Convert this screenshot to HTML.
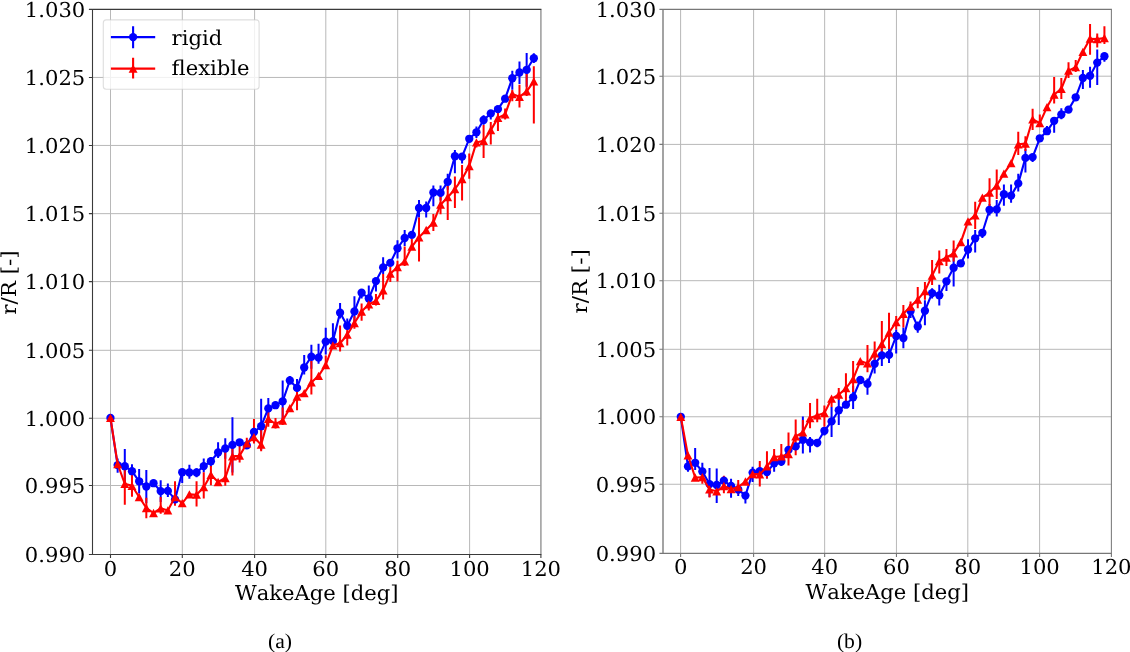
<!DOCTYPE html>
<html lang="en"><head><meta charset="utf-8"><title>r/R vs WakeAge: rigid and flexible</title>
<style>
html,body{margin:0;padding:0;background:#fff;}
body{width:1130px;height:652px;overflow:hidden;}
svg{display:block;will-change:transform;font-family:"DejaVu Serif","Liberation Serif",serif;font-kerning:none;text-rendering:geometricPrecision;}
</style></head><body>
<svg width="1130" height="652" viewBox="0 0 1130 652">
<rect width="1130" height="652" fill="#fff"/>
<g>
<path d="M110.5 9.4V554.5M182.3 9.4V554.5M254.6 9.4V554.5M325.8 9.4V554.5M397.7 9.4V554.5M469.6 9.4V554.5M92.5 77.45H540.9M92.5 145.45H540.9M92.5 213.65H540.9M92.5 281.6H540.9M92.5 350.3H540.9M92.5 418.25H540.9M92.5 485.5H540.9" stroke="#b8b8b8" stroke-width="1" fill="none"/>
<path d="M117.63 458.5V472.7M124.8 449.1V483.3M131.98 464.2V478.2M139.15 469.1V493.5M146.33 470V503M160.68 480.2V502M167.86 483.4V497.1M182.21 472.2V482.9M189.39 464.8V478.8M196.56 468.3V477.2M203.74 458.6V472.3M210.91 457V467M218.09 442.3V458.1M225.27 438.3V458.7M232.44 417.3V472.5M261.15 398.7V450M268.32 398.1V418.7M282.67 380.4V422M289.85 376V380.5M297.03 379V392.5M304.2 354.9V374.6M311.38 344.7V368.7M318.55 343.8V363.8M325.73 327.8V354.5M332.91 323.3V341.1M340.08 302.9V318.5M347.26 318.5V325.8M354.43 296.2V326.6M361.61 292.7V298.5M368.79 285.6V305M375.96 281.1V291.4M383.14 257.2V274M397.49 240.2V258.5M404.67 230V246M419.02 200V217.6M426.19 201.4V217.6M433.37 185.4V206.3M440.55 185.4V200.4M447.72 173.8V189.8M454.9 149.9V173.3M462.07 156.6V163.6M476.43 126.4V138M483.6 115.2V124.8M490.78 113.4V119.6M512.31 70.7V89.8M519.48 61.4V84M526.66 52.9V86.7M533.83 53.3V63.1" stroke="#0000ff" stroke-width="2.0" fill="none"/>
<path d="M124.8 462.9V504.7M131.98 474.8V496.7M146.33 497.7V518.3M160.68 496.9V513.8M175.03 481.3V505.8M196.56 481.2V506.6M203.74 472.3V498.6M210.91 466V485.2M225.27 448.5V485.7M232.44 445V475.5M239.62 446V462.6M246.79 437.8V449M253.97 419.1V443.6M261.15 426V451.2M268.32 411V426.7M275.5 418.1V428.5M282.67 407.5V425M297.03 388V410.2M311.38 361V394.6M325.73 355.4V365M340.08 325.6V351.4M347.26 326V345.6M354.43 316.3V328.7M361.61 303.4V320.7M368.79 298V310.5M375.96 294V305.5M383.14 274V299.4M390.31 266.9V282M397.49 260.7V281.6M404.67 246.5V266M411.84 239V246.6M419.02 217.6V261.6M433.37 214V230.9M440.55 196V214.3M447.72 186V220M454.9 176.5V208M462.07 164.9V200.5M469.25 153.5V178.7M476.43 142.4V147.5M483.6 125V157.9M490.78 121.9V144.6M497.95 110V131.1M505.13 108.5V119.5M512.31 90V101.2M519.48 84.8V107.5M526.66 73.8V95.9M533.83 66.2V123.5" stroke="#ff0000" stroke-width="2.0" fill="none"/>
<polyline points="110.45,418 117.63,465.1 124.8,466.2 131.98,471.2 139.15,481.3 146.33,486.5 153.51,483.2 160.68,491.1 167.86,490.9 175.03,499.4 182.21,472.2 189.39,472.5 196.56,472.5 203.74,466.1 210.91,461.2 218.09,452.5 225.27,448.5 232.44,444.9 239.62,442.3 246.79,445.4 253.97,432 261.15,426.2 268.32,408.4 275.5,405.2 282.67,401.3 289.85,380.5 297.03,387.9 304.2,367.5 311.38,356.7 318.55,357.6 325.73,341.6 332.91,341.1 340.08,312.7 347.26,325.8 354.43,311.4 361.61,292.7 368.79,298.5 375.96,281.1 383.14,267.4 390.31,262.9 397.49,248.3 404.67,238 411.84,234.9 419.02,208 426.19,208 433.37,192.5 440.55,192.9 447.72,181.8 454.9,156.2 462.07,156.6 469.25,138.8 476.43,132.3 483.6,120 490.78,113.4 497.95,109.1 505.13,98.7 512.31,78.2 519.48,72.5 526.66,69.8 533.83,58.2" stroke="#0000ff" stroke-width="2.1" fill="none" stroke-linejoin="round"/>
<g fill="#0000ff"><circle cx="110.45" cy="418" r="4.15"/><circle cx="117.63" cy="465.1" r="4.15"/><circle cx="124.8" cy="466.2" r="4.15"/><circle cx="131.98" cy="471.2" r="4.15"/><circle cx="139.15" cy="481.3" r="4.15"/><circle cx="146.33" cy="486.5" r="4.15"/><circle cx="153.51" cy="483.2" r="4.15"/><circle cx="160.68" cy="491.1" r="4.15"/><circle cx="167.86" cy="490.9" r="4.15"/><circle cx="175.03" cy="499.4" r="4.15"/><circle cx="182.21" cy="472.2" r="4.15"/><circle cx="189.39" cy="472.5" r="4.15"/><circle cx="196.56" cy="472.5" r="4.15"/><circle cx="203.74" cy="466.1" r="4.15"/><circle cx="210.91" cy="461.2" r="4.15"/><circle cx="218.09" cy="452.5" r="4.15"/><circle cx="225.27" cy="448.5" r="4.15"/><circle cx="232.44" cy="444.9" r="4.15"/><circle cx="239.62" cy="442.3" r="4.15"/><circle cx="246.79" cy="445.4" r="4.15"/><circle cx="253.97" cy="432" r="4.15"/><circle cx="261.15" cy="426.2" r="4.15"/><circle cx="268.32" cy="408.4" r="4.15"/><circle cx="275.5" cy="405.2" r="4.15"/><circle cx="282.67" cy="401.3" r="4.15"/><circle cx="289.85" cy="380.5" r="4.15"/><circle cx="297.03" cy="387.9" r="4.15"/><circle cx="304.2" cy="367.5" r="4.15"/><circle cx="311.38" cy="356.7" r="4.15"/><circle cx="318.55" cy="357.6" r="4.15"/><circle cx="325.73" cy="341.6" r="4.15"/><circle cx="332.91" cy="341.1" r="4.15"/><circle cx="340.08" cy="312.7" r="4.15"/><circle cx="347.26" cy="325.8" r="4.15"/><circle cx="354.43" cy="311.4" r="4.15"/><circle cx="361.61" cy="292.7" r="4.15"/><circle cx="368.79" cy="298.5" r="4.15"/><circle cx="375.96" cy="281.1" r="4.15"/><circle cx="383.14" cy="267.4" r="4.15"/><circle cx="390.31" cy="262.9" r="4.15"/><circle cx="397.49" cy="248.3" r="4.15"/><circle cx="404.67" cy="238" r="4.15"/><circle cx="411.84" cy="234.9" r="4.15"/><circle cx="419.02" cy="208" r="4.15"/><circle cx="426.19" cy="208" r="4.15"/><circle cx="433.37" cy="192.5" r="4.15"/><circle cx="440.55" cy="192.9" r="4.15"/><circle cx="447.72" cy="181.8" r="4.15"/><circle cx="454.9" cy="156.2" r="4.15"/><circle cx="462.07" cy="156.6" r="4.15"/><circle cx="469.25" cy="138.8" r="4.15"/><circle cx="476.43" cy="132.3" r="4.15"/><circle cx="483.6" cy="120" r="4.15"/><circle cx="490.78" cy="113.4" r="4.15"/><circle cx="497.95" cy="109.1" r="4.15"/><circle cx="505.13" cy="98.7" r="4.15"/><circle cx="512.31" cy="78.2" r="4.15"/><circle cx="519.48" cy="72.5" r="4.15"/><circle cx="526.66" cy="69.8" r="4.15"/><circle cx="533.83" cy="58.2" r="4.15"/></g>
<polyline points="110.45,417.9 117.63,464 124.8,483.8 131.98,485.8 139.15,497 146.33,508 153.51,513 160.68,508.3 167.86,510.4 175.03,497.1 182.21,503.2 189.39,494.4 196.56,494.7 203.74,487.2 210.91,474.8 218.09,482 225.27,478 232.44,456.4 239.62,455.7 246.79,443.4 253.97,437.2 261.15,444.7 268.32,418.9 275.5,424 282.67,420.5 289.85,408.2 297.03,396.5 304.2,393.1 311.38,382.4 318.55,375.8 325.73,365 332.91,345.3 340.08,343.2 347.26,334.7 354.43,323 361.61,311.6 368.79,304.3 375.96,300.9 383.14,290.3 390.31,273.7 397.49,267 404.67,261.4 411.84,246.6 419.02,237.3 426.19,230 433.37,222.5 440.55,204.7 447.72,197.2 454.9,189.2 462.07,179 469.25,166 476.43,142.4 483.6,140.8 490.78,130.1 497.95,117.9 505.13,114.4 512.31,94 519.48,96.8 526.66,91.3 533.83,81.4" stroke="#ff0000" stroke-width="2.1" fill="none" stroke-linejoin="round"/>
<g fill="#ff0000"><path d="M110.45 413.75L114.9 422.05H106Z"/><path d="M117.63 459.85L122.08 468.15H113.18Z"/><path d="M124.8 479.65L129.25 487.95H120.35Z"/><path d="M131.98 481.65L136.43 489.95H127.53Z"/><path d="M139.15 492.85L143.6 501.15H134.7Z"/><path d="M146.33 503.85L150.78 512.15H141.88Z"/><path d="M153.51 508.85L157.96 517.15H149.06Z"/><path d="M160.68 504.15L165.13 512.45H156.23Z"/><path d="M167.86 506.25L172.31 514.55H163.41Z"/><path d="M175.03 492.95L179.48 501.25H170.58Z"/><path d="M182.21 499.05L186.66 507.35H177.76Z"/><path d="M189.39 490.25L193.84 498.55H184.94Z"/><path d="M196.56 490.55L201.01 498.85H192.11Z"/><path d="M203.74 483.05L208.19 491.35H199.29Z"/><path d="M210.91 470.65L215.36 478.95H206.46Z"/><path d="M218.09 477.85L222.54 486.15H213.64Z"/><path d="M225.27 473.85L229.72 482.15H220.82Z"/><path d="M232.44 452.25L236.89 460.55H227.99Z"/><path d="M239.62 451.55L244.07 459.85H235.17Z"/><path d="M246.79 439.25L251.24 447.55H242.34Z"/><path d="M253.97 433.05L258.42 441.35H249.52Z"/><path d="M261.15 440.55L265.6 448.85H256.7Z"/><path d="M268.32 414.75L272.77 423.05H263.87Z"/><path d="M275.5 419.85L279.95 428.15H271.05Z"/><path d="M282.67 416.35L287.12 424.65H278.22Z"/><path d="M289.85 404.05L294.3 412.35H285.4Z"/><path d="M297.03 392.35L301.48 400.65H292.58Z"/><path d="M304.2 388.95L308.65 397.25H299.75Z"/><path d="M311.38 378.25L315.83 386.55H306.93Z"/><path d="M318.55 371.65L323 379.95H314.1Z"/><path d="M325.73 360.85L330.18 369.15H321.28Z"/><path d="M332.91 341.15L337.36 349.45H328.46Z"/><path d="M340.08 339.05L344.53 347.35H335.63Z"/><path d="M347.26 330.55L351.71 338.85H342.81Z"/><path d="M354.43 318.85L358.88 327.15H349.98Z"/><path d="M361.61 307.45L366.06 315.75H357.16Z"/><path d="M368.79 300.15L373.24 308.45H364.34Z"/><path d="M375.96 296.75L380.41 305.05H371.51Z"/><path d="M383.14 286.15L387.59 294.45H378.69Z"/><path d="M390.31 269.55L394.76 277.85H385.86Z"/><path d="M397.49 262.85L401.94 271.15H393.04Z"/><path d="M404.67 257.25L409.12 265.55H400.22Z"/><path d="M411.84 242.45L416.29 250.75H407.39Z"/><path d="M419.02 233.15L423.47 241.45H414.57Z"/><path d="M426.19 225.85L430.64 234.15H421.74Z"/><path d="M433.37 218.35L437.82 226.65H428.92Z"/><path d="M440.55 200.55L445 208.85H436.1Z"/><path d="M447.72 193.05L452.17 201.35H443.27Z"/><path d="M454.9 185.05L459.35 193.35H450.45Z"/><path d="M462.07 174.85L466.52 183.15H457.62Z"/><path d="M469.25 161.85L473.7 170.15H464.8Z"/><path d="M476.43 138.25L480.88 146.55H471.98Z"/><path d="M483.6 136.65L488.05 144.95H479.15Z"/><path d="M490.78 125.95L495.23 134.25H486.33Z"/><path d="M497.95 113.75L502.4 122.05H493.5Z"/><path d="M505.13 110.25L509.58 118.55H500.68Z"/><path d="M512.31 89.85L516.76 98.15H507.86Z"/><path d="M519.48 92.65L523.93 100.95H515.03Z"/><path d="M526.66 87.15L531.11 95.45H522.21Z"/><path d="M533.83 77.25L538.28 85.55H529.38Z"/></g>
<path d="M540.9 9.4V554.5" stroke="#9a9a9a" stroke-width="1.5"/>
<path d="M92.5 8.9V555" stroke="#3a3a3a" stroke-width="1.1"/>
<path d="M92.5 9.4H541.4" stroke="#3a3a3a" stroke-width="1.1"/>
<path d="M92.5 554.5H541.4" stroke="#3a3a3a" stroke-width="1.1"/>
<path d="M110.5 554.5v3.6M182.3 554.5v3.6M254.6 554.5v3.6M325.8 554.5v3.6M397.7 554.5v3.6M469.6 554.5v3.6M540.9 554.5v3.6M92.5 9.4h-3.6M92.5 77.45h-3.6M92.5 145.45h-3.6M92.5 213.65h-3.6M92.5 281.6h-3.6M92.5 350.3h-3.6M92.5 418.25h-3.6M92.5 485.5h-3.6M92.5 554.5h-3.6" stroke="#3a3a3a" stroke-width="1.1" fill="none"/>
<g font-size="20.5" fill="#000">
<text transform="translate(85.3 16.85) scale(1.03 1)" text-anchor="end">1.030</text>
<text transform="translate(85.3 84.9) scale(1.03 1)" text-anchor="end">1.025</text>
<text transform="translate(85.3 152.9) scale(1.03 1)" text-anchor="end">1.020</text>
<text transform="translate(85.3 221.1) scale(1.03 1)" text-anchor="end">1.015</text>
<text transform="translate(85.3 289.05) scale(1.03 1)" text-anchor="end">1.010</text>
<text transform="translate(85.3 357.75) scale(1.03 1)" text-anchor="end">1.005</text>
<text transform="translate(85.3 425.7) scale(1.03 1)" text-anchor="end">1.000</text>
<text transform="translate(85.3 492.95) scale(1.03 1)" text-anchor="end">0.995</text>
<text transform="translate(85.3 561.95) scale(1.03 1)" text-anchor="end">0.990</text>
<text transform="translate(110.5 575.7) scale(1.03 1)" text-anchor="middle">0</text>
<text transform="translate(182.3 575.7) scale(1.03 1)" text-anchor="middle">20</text>
<text transform="translate(254.6 575.7) scale(1.03 1)" text-anchor="middle">40</text>
<text transform="translate(325.8 575.7) scale(1.03 1)" text-anchor="middle">60</text>
<text transform="translate(397.7 575.7) scale(1.03 1)" text-anchor="middle">80</text>
<text transform="translate(469.6 575.7) scale(1.03 1)" text-anchor="middle">100</text>
<text transform="translate(540.9 575.7) scale(1.03 1)" text-anchor="middle">120</text>
<text transform="translate(316.7 599.9) scale(1.03 1)" text-anchor="middle">WakeAge [deg]</text>
<text transform="translate(16.3 282.55) rotate(-90) scale(1.045 1)" text-anchor="middle">r/R [-]</text>
</g>
<rect x="103.3" y="19.9" width="155.8" height="69.3" rx="3" ry="3" fill="#fff" fill-opacity="0.8" stroke="#ccc" stroke-opacity="0.65" stroke-width="1.1"/>
<path d="M133.1 26.2V48.2M110.9 37.1H155.2" stroke="#0000ff" stroke-width="2.1"/><g fill="#0000ff"><circle cx="133.1" cy="37.1" r="4.15"/></g>
<path d="M133.1 57.8V78.5M110.9 68.6H155.2" stroke="#ff0000" stroke-width="2.1"/><g fill="#ff0000"><path d="M133.1 64.45L137.55 72.75H128.65Z"/></g>
<g font-size="20.5" fill="#000"><text transform="translate(171.6 44.6) scale(1.03 1)" text-anchor="start">rigid</text><text transform="translate(171.6 75.4) scale(1.03 1)" text-anchor="start">flexible</text></g>
<text transform="translate(280 648) scale(1.03 1)" text-anchor="middle" font-family="'Liberation Serif', 'DejaVu Serif', serif" font-size="21" fill="#000">(a)</text>
</g>
<g>
<path d="M680.6 9.4V553.4M753.6 9.4V553.4M824.65 9.4V553.4M896.45 9.4V553.4M967.8 9.4V553.4M1039.6 9.4V553.4M663 76.2H1111.4M663 144.4H1111.4M663 213.2H1111.4M663 280.7H1111.4M663 349.3H1111.4M663 416.75H1111.4M663 484.25H1111.4" stroke="#b8b8b8" stroke-width="1" fill="none"/>
<path d="M687.98 461V471.7M695.16 448.1V469.9M702.34 462.8V480M709.52 468.1V497M716.7 468.6V502.9M731.06 478.8V497.7M738.24 489.5V496M745.42 495.6V503.4M752.6 466.8V481.9M766.96 472.1V478.4M774.14 455V471.7M781.32 461.5V466M802.86 416.5V453.5M810.04 437V452.6M817.22 442.8V447.3M824.4 430.8V435.5M831.58 407.1V437M838.76 399V424.9M853.12 386V408.9M867.48 378.5V394.7M874.66 354V373.6M881.84 345V366M889.02 349V362.9M896.2 329.6V353.6M903.38 327.4V348.2M910.56 304V318M917.74 321.6V332.7M924.92 300.2V325.2M932.1 288.2V298.4M939.28 284.7V305.6M946.46 281.3V290.9M953.64 249V286.5M968 239.2V258.4M975.18 229.9V252.6M982.36 232.8V237.9M989.54 204V215.6M996.72 200V216.5M1003.9 184.5V205.8M1011.08 184.5V202.7M1018.26 173.8V191.6M1025.44 149.1V172.6M1032.62 157.1V162M1046.98 126V131.2M1054.16 120.8V132.7M1061.34 108.3V119.3M1082.88 70V89.1M1090.06 66.8V87.8M1097.24 49.4V85.1M1104.42 56.2V61.8" stroke="#0000ff" stroke-width="2.0" fill="none"/>
<path d="M702.34 471V483.7M709.52 481V497.5M723.88 475.8V493.3M738.24 480.1V494M759.78 461V486.5M766.96 451.2V478.4M774.14 449V465M781.32 444.1V462M788.5 432.6V465.5M795.68 419.6V455.2M802.86 420V440M810.04 403.1V428.3M817.22 398.7V422.3M824.4 405.4V426.7M831.58 398.7V407.1M838.76 388V400M845.94 373.2V400.9M853.12 361.1V392M867.48 345.1V372.3M874.66 341.6V360M881.84 321.1V352M889.02 312.7V349.1M896.2 316V329.6M903.38 305.1V327.4M910.56 301.6V311M917.74 286.9V308.2M924.92 282V299.8M932.1 260.1V285.1M939.28 250.4V273.5M946.46 249V265.9M953.64 240.6V261.5M975.18 201.8V228.9M989.54 178.2V206M996.72 169.6V199.1M1018.26 131.8V154.9M1025.44 136.2V151M1032.62 108.7V130M1039.8 114.5V123.1M1054.16 77.1V103.4M1061.34 78V98.9M1068.52 62.3V78M1075.7 60V72M1090.06 24V54.7M1097.24 33.4V47.6M1104.42 26.2V44" stroke="#ff0000" stroke-width="2.0" fill="none"/>
<polyline points="680.8,416.8 687.98,466.4 695.16,462.8 702.34,471.5 709.52,484.1 716.7,485 723.88,480.6 731.06,486 738.24,489.5 745.42,495.6 752.6,472.6 759.78,471.2 766.96,472.1 774.14,463.3 781.32,461.5 788.5,449.9 795.68,446.4 802.86,439.7 810.04,442.3 817.22,442.8 824.4,430.8 831.58,421.4 838.76,410.2 845.94,404.7 853.12,397.3 860.3,380 867.48,383.9 874.66,363.8 881.84,355.4 889.02,354.9 896.2,336 903.38,338 910.56,311 917.74,326.5 924.92,310.7 932.1,293.1 939.28,295.3 946.46,281.3 953.64,267.7 960.82,263.3 968,249.5 975.18,238.3 982.36,232.8 989.54,209.8 996.72,209.4 1003.9,194.2 1011.08,195.6 1018.26,183.4 1025.44,157.9 1032.62,157.1 1039.8,138.3 1046.98,131.2 1054.16,120.8 1061.34,114.5 1068.52,109.6 1075.7,97.3 1082.88,78 1090.06,75.8 1097.24,62.6 1104.42,56.2" stroke="#0000ff" stroke-width="2.1" fill="none" stroke-linejoin="round"/>
<g fill="#0000ff"><circle cx="680.8" cy="416.8" r="4.15"/><circle cx="687.98" cy="466.4" r="4.15"/><circle cx="695.16" cy="462.8" r="4.15"/><circle cx="702.34" cy="471.5" r="4.15"/><circle cx="709.52" cy="484.1" r="4.15"/><circle cx="716.7" cy="485" r="4.15"/><circle cx="723.88" cy="480.6" r="4.15"/><circle cx="731.06" cy="486" r="4.15"/><circle cx="738.24" cy="489.5" r="4.15"/><circle cx="745.42" cy="495.6" r="4.15"/><circle cx="752.6" cy="472.6" r="4.15"/><circle cx="759.78" cy="471.2" r="4.15"/><circle cx="766.96" cy="472.1" r="4.15"/><circle cx="774.14" cy="463.3" r="4.15"/><circle cx="781.32" cy="461.5" r="4.15"/><circle cx="788.5" cy="449.9" r="4.15"/><circle cx="795.68" cy="446.4" r="4.15"/><circle cx="802.86" cy="439.7" r="4.15"/><circle cx="810.04" cy="442.3" r="4.15"/><circle cx="817.22" cy="442.8" r="4.15"/><circle cx="824.4" cy="430.8" r="4.15"/><circle cx="831.58" cy="421.4" r="4.15"/><circle cx="838.76" cy="410.2" r="4.15"/><circle cx="845.94" cy="404.7" r="4.15"/><circle cx="853.12" cy="397.3" r="4.15"/><circle cx="860.3" cy="380" r="4.15"/><circle cx="867.48" cy="383.9" r="4.15"/><circle cx="874.66" cy="363.8" r="4.15"/><circle cx="881.84" cy="355.4" r="4.15"/><circle cx="889.02" cy="354.9" r="4.15"/><circle cx="896.2" cy="336" r="4.15"/><circle cx="903.38" cy="338" r="4.15"/><circle cx="910.56" cy="311" r="4.15"/><circle cx="917.74" cy="326.5" r="4.15"/><circle cx="924.92" cy="310.7" r="4.15"/><circle cx="932.1" cy="293.1" r="4.15"/><circle cx="939.28" cy="295.3" r="4.15"/><circle cx="946.46" cy="281.3" r="4.15"/><circle cx="953.64" cy="267.7" r="4.15"/><circle cx="960.82" cy="263.3" r="4.15"/><circle cx="968" cy="249.5" r="4.15"/><circle cx="975.18" cy="238.3" r="4.15"/><circle cx="982.36" cy="232.8" r="4.15"/><circle cx="989.54" cy="209.8" r="4.15"/><circle cx="996.72" cy="209.4" r="4.15"/><circle cx="1003.9" cy="194.2" r="4.15"/><circle cx="1011.08" cy="195.6" r="4.15"/><circle cx="1018.26" cy="183.4" r="4.15"/><circle cx="1025.44" cy="157.9" r="4.15"/><circle cx="1032.62" cy="157.1" r="4.15"/><circle cx="1039.8" cy="138.3" r="4.15"/><circle cx="1046.98" cy="131.2" r="4.15"/><circle cx="1054.16" cy="120.8" r="4.15"/><circle cx="1061.34" cy="114.5" r="4.15"/><circle cx="1068.52" cy="109.6" r="4.15"/><circle cx="1075.7" cy="97.3" r="4.15"/><circle cx="1082.88" cy="78" r="4.15"/><circle cx="1090.06" cy="75.8" r="4.15"/><circle cx="1097.24" cy="62.6" r="4.15"/><circle cx="1104.42" cy="56.2" r="4.15"/></g>
<polyline points="680.8,416.9 687.98,455.4 695.16,477.5 702.34,477.2 709.52,489.4 716.7,491.3 723.88,486 731.06,489.2 738.24,487 745.42,481.5 752.6,474.1 759.78,474.4 766.96,466.4 774.14,457 781.32,456.3 788.5,454.2 795.68,436.4 802.86,432.3 810.04,418.1 817.22,415.4 824.4,413.1 831.58,398.7 838.76,394.7 845.94,388.2 853.12,379.1 860.3,361.1 867.48,363.4 874.66,353.3 881.84,344 889.02,332.5 896.2,322.2 903.38,313.8 910.56,306.6 917.74,299.6 924.92,291.1 932.1,275.6 939.28,261.2 946.46,257.5 953.64,253.3 960.82,242.1 968,221.3 975.18,215.3 982.36,197.6 989.54,192.7 996.72,185.5 1003.9,173.6 1011.08,163.1 1018.26,144.4 1025.44,143.5 1032.62,119.3 1039.8,123.1 1046.98,107.1 1054.16,94.5 1061.34,88.9 1068.52,70.6 1075.7,67.1 1082.88,51.8 1090.06,38.7 1097.24,39.1 1104.42,38" stroke="#ff0000" stroke-width="2.1" fill="none" stroke-linejoin="round"/>
<g fill="#ff0000"><path d="M680.8 412.75L685.25 421.05H676.35Z"/><path d="M687.98 451.25L692.43 459.55H683.53Z"/><path d="M695.16 473.35L699.61 481.65H690.71Z"/><path d="M702.34 473.05L706.79 481.35H697.89Z"/><path d="M709.52 485.25L713.97 493.55H705.07Z"/><path d="M716.7 487.15L721.15 495.45H712.25Z"/><path d="M723.88 481.85L728.33 490.15H719.43Z"/><path d="M731.06 485.05L735.51 493.35H726.61Z"/><path d="M738.24 482.85L742.69 491.15H733.79Z"/><path d="M745.42 477.35L749.87 485.65H740.97Z"/><path d="M752.6 469.95L757.05 478.25H748.15Z"/><path d="M759.78 470.25L764.23 478.55H755.33Z"/><path d="M766.96 462.25L771.41 470.55H762.51Z"/><path d="M774.14 452.85L778.59 461.15H769.69Z"/><path d="M781.32 452.15L785.77 460.45H776.87Z"/><path d="M788.5 450.05L792.95 458.35H784.05Z"/><path d="M795.68 432.25L800.13 440.55H791.23Z"/><path d="M802.86 428.15L807.31 436.45H798.41Z"/><path d="M810.04 413.95L814.49 422.25H805.59Z"/><path d="M817.22 411.25L821.67 419.55H812.77Z"/><path d="M824.4 408.95L828.85 417.25H819.95Z"/><path d="M831.58 394.55L836.03 402.85H827.13Z"/><path d="M838.76 390.55L843.21 398.85H834.31Z"/><path d="M845.94 384.05L850.39 392.35H841.49Z"/><path d="M853.12 374.95L857.57 383.25H848.67Z"/><path d="M860.3 356.95L864.75 365.25H855.85Z"/><path d="M867.48 359.25L871.93 367.55H863.03Z"/><path d="M874.66 349.15L879.11 357.45H870.21Z"/><path d="M881.84 339.85L886.29 348.15H877.39Z"/><path d="M889.02 328.35L893.47 336.65H884.57Z"/><path d="M896.2 318.05L900.65 326.35H891.75Z"/><path d="M903.38 309.65L907.83 317.95H898.93Z"/><path d="M910.56 302.45L915.01 310.75H906.11Z"/><path d="M917.74 295.45L922.19 303.75H913.29Z"/><path d="M924.92 286.95L929.37 295.25H920.47Z"/><path d="M932.1 271.45L936.55 279.75H927.65Z"/><path d="M939.28 257.05L943.73 265.35H934.83Z"/><path d="M946.46 253.35L950.91 261.65H942.01Z"/><path d="M953.64 249.15L958.09 257.45H949.19Z"/><path d="M960.82 237.95L965.27 246.25H956.37Z"/><path d="M968 217.15L972.45 225.45H963.55Z"/><path d="M975.18 211.15L979.63 219.45H970.73Z"/><path d="M982.36 193.45L986.81 201.75H977.91Z"/><path d="M989.54 188.55L993.99 196.85H985.09Z"/><path d="M996.72 181.35L1001.17 189.65H992.27Z"/><path d="M1003.9 169.45L1008.35 177.75H999.45Z"/><path d="M1011.08 158.95L1015.53 167.25H1006.63Z"/><path d="M1018.26 140.25L1022.71 148.55H1013.81Z"/><path d="M1025.44 139.35L1029.89 147.65H1020.99Z"/><path d="M1032.62 115.15L1037.07 123.45H1028.17Z"/><path d="M1039.8 118.95L1044.25 127.25H1035.35Z"/><path d="M1046.98 102.95L1051.43 111.25H1042.53Z"/><path d="M1054.16 90.35L1058.61 98.65H1049.71Z"/><path d="M1061.34 84.75L1065.79 93.05H1056.89Z"/><path d="M1068.52 66.45L1072.97 74.75H1064.07Z"/><path d="M1075.7 62.95L1080.15 71.25H1071.25Z"/><path d="M1082.88 47.65L1087.33 55.95H1078.43Z"/><path d="M1090.06 34.55L1094.51 42.85H1085.61Z"/><path d="M1097.24 34.95L1101.69 43.25H1092.79Z"/><path d="M1104.42 33.85L1108.87 42.15H1099.97Z"/></g>
<path d="M1111.4 9.4V553.4" stroke="#808080" stroke-width="1.1"/>
<path d="M663 8.9V553.9" stroke="#8c8c8c" stroke-width="1.6"/>
<path d="M663 9.4H1111.9" stroke="#777" stroke-width="1.1"/>
<path d="M663 553.4H1111.9" stroke="#777" stroke-width="1.1"/>
<path d="M680.6 553.4v3.6M753.6 553.4v3.6M824.65 553.4v3.6M896.45 553.4v3.6M967.8 553.4v3.6M1039.6 553.4v3.6M1111.4 553.4v3.6M663 9.4h-3.6M663 76.2h-3.6M663 144.4h-3.6M663 213.2h-3.6M663 280.7h-3.6M663 349.3h-3.6M663 416.75h-3.6M663 484.25h-3.6M663 553.4h-3.6" stroke="#777" stroke-width="1.1" fill="none"/>
<g font-size="20.5" fill="#000">
<text transform="translate(656.1 16.85) scale(1.03 1)" text-anchor="end">1.030</text>
<text transform="translate(656.1 83.65) scale(1.03 1)" text-anchor="end">1.025</text>
<text transform="translate(656.1 151.85) scale(1.03 1)" text-anchor="end">1.020</text>
<text transform="translate(656.1 220.65) scale(1.03 1)" text-anchor="end">1.015</text>
<text transform="translate(656.1 288.15) scale(1.03 1)" text-anchor="end">1.010</text>
<text transform="translate(656.1 356.75) scale(1.03 1)" text-anchor="end">1.005</text>
<text transform="translate(656.1 424.2) scale(1.03 1)" text-anchor="end">1.000</text>
<text transform="translate(656.1 491.7) scale(1.03 1)" text-anchor="end">0.995</text>
<text transform="translate(656.1 560.85) scale(1.03 1)" text-anchor="end">0.990</text>
<text transform="translate(680.6 574.3) scale(1.03 1)" text-anchor="middle">0</text>
<text transform="translate(753.6 574.3) scale(1.03 1)" text-anchor="middle">20</text>
<text transform="translate(824.65 574.3) scale(1.03 1)" text-anchor="middle">40</text>
<text transform="translate(896.45 574.3) scale(1.03 1)" text-anchor="middle">60</text>
<text transform="translate(967.8 574.3) scale(1.03 1)" text-anchor="middle">80</text>
<text transform="translate(1039.6 574.3) scale(1.03 1)" text-anchor="middle">100</text>
<text transform="translate(1111.4 574.3) scale(1.03 1)" text-anchor="middle">120</text>
<text transform="translate(887.2 598.9) scale(1.03 1)" text-anchor="middle">WakeAge [deg]</text>
<text transform="translate(587.1 281.4) rotate(-90) scale(1.045 1)" text-anchor="middle">r/R [-]</text>
</g>
<text transform="translate(849.5 648) scale(1.03 1)" text-anchor="middle" font-family="'Liberation Serif', 'DejaVu Serif', serif" font-size="21" fill="#000">(b)</text>
</g>
</svg>
</body></html>
